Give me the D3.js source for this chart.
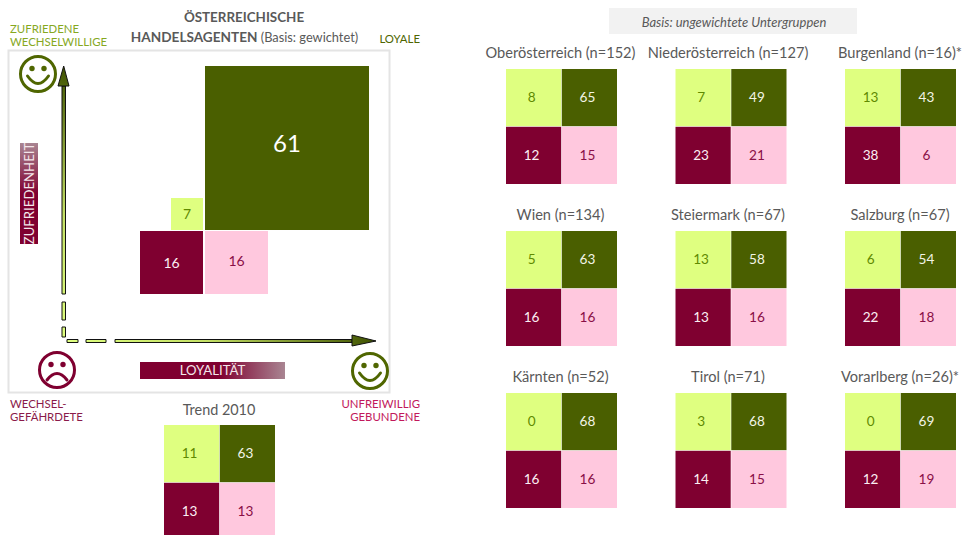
<!DOCTYPE html>
<meta charset="utf-8">
<style>
html, body {
  margin: 0;
  background: #fff;
}
text {
  font-family: Lato, "Open Sans", sans-serif;
}
.frame {
  fill: #fff;
  stroke: #e4e4e4;
  stroke-width: 2px;
}
.face {
  fill: none;
  stroke-width: 3px;
  stroke-linecap: round;
}
.title {
  fill: #595959;
  text-anchor: middle;
}
.shaft {
  stroke: #111;
  stroke-width: 1px;
}
</style>
<body>
<script src="https://d3js.org/d3.v7.min.js"></script>
<script>

var width = 965,
    height = 535;

// regions, left to right, row by row
var regions = ["Oberösterreich (n=152)", "Niederösterreich (n=127)", "Burgenland (n=16)*",
               "Wien (n=134)", "Steiermark (n=67)", "Salzburg (n=67)",
               "Kärnten (n=52)", "Tirol (n=71)", "Vorarlberg (n=26)*"];
var wechselwillige = [8, 7, 13, 5, 13, 6, 0, 3, 0];
var loyale = [65, 49, 43, 63, 58, 54, 68, 68, 69];
var gefaehrdete = [12, 23, 38, 16, 13, 22, 16, 14, 12];
var gebundene = [15, 21, 6, 16, 16, 18, 16, 15, 19];

var segments = ["wechselwillige", "loyale", "gefaehrdete", "gebundene"];
var fills = ["#dfff80", "#4a5f00", "#7f0030", "#ffc8de"];
var inks = ["#5f8a00", "#f2f5e6", "#fbeef2", "#8a0f47"];

// total
var totalValues = [7, 61, 16, 16];
// trend
var trendValues = [11, 63, 13, 13];

var fill = d3.scaleOrdinal().domain(segments).range(fills);
var ink = d3.scaleOrdinal().domain(segments).range(inks);

var svg = d3.select("body").append("svg")
    .attr("width", width)
    .attr("height", height)
    .style("display", "block");

var defs = svg.append("defs");

function gradient(id, x1, y1, x2, y2, stops) {
  var g = defs.append("linearGradient")
      .attr("id", id)
      .attr("gradientUnits", "userSpaceOnUse")
      .attr("x1", x1).attr("y1", y1)
      .attr("x2", x2).attr("y2", y2);
  stops.forEach(function(s) {
    g.append("stop").attr("offset", s[0]).attr("stop-color", s[1]);
  });
}

gradient("arrowV", 0, 337, 0, 66, [[0, "#dfff80"], [.45, "#c4e066"], [1, "#3f5200"]]);
gradient("arrowH", 67, 0, 376, 0, [[0, "#dfff80"], [.45, "#c4e066"], [1, "#3f5200"]]);
gradient("barV", 0, 244, 0, 143, [[0, "#7f0030"], [.5, "#7f0030"], [1, "#a98592"]]);
gradient("barH", 140, 0, 285, 0, [[0, "#7f0030"], [.55, "#7f0030"], [1, "#a98592"]]);

// frame of the big quadrant
svg.append("rect")
    .attr("class", "frame")
    .attr("x", 8.5).attr("y", 50.5)
    .attr("width", 381).attr("height", 342);

// big quadrant, sides
var side = d3.scaleLinear().domain([7, 16, 61]).range([32, 63, 164]);
var crossX = 204,
    crossY = 230.5;
var labelShift = [0, -5, 1, -1];

var big = svg.append("g").selectAll("g")
    .data(segments.map(function(s, i) { return {key: s, value: totalValues[i], right: i % 2 == 1, bottom: i > 1, shift: labelShift[i]}; }))
  .enter().append("g");

big.append("rect")
    .attr("x", function(d) { return d.right ? crossX + 1 : crossX - 1 - side(d.value); })
    .attr("y", function(d) { return d.bottom ? crossY + .5 : crossY - .5 - side(d.value); })
    .attr("width", function(d) { return side(d.value); })
    .attr("height", function(d) { return side(d.value); })
    .attr("fill", function(d) { return fill(d.key); });

big.append("text")
    .attr("x", function(d) { return d.right ? crossX + 1 + side(d.value) / 2 : crossX - 1 - side(d.value) / 2; })
    .attr("y", function(d) { return (d.bottom ? crossY + side(d.value) / 2 : crossY - side(d.value) / 2) + d.shift; })
    .attr("dy", ".35em")
    .attr("text-anchor", "middle")
    .attr("font-size", function(d) { return d.value > 50 ? 24 : 14; })
    .attr("fill", function(d) { return fill(d.key) == "#4a5f00" ? "#fff" : ink(d.key); })
    .text(function(d) { return d.value; });

// 2x2 blocks
var cellX = d3.scaleBand().domain([0, 1]).range([0, 111]).paddingInner(.01);
var cellY = d3.scaleBand().domain([0, 1]).range([0, 115]).paddingInner(.01);

function block(x, y, values) {
  var g = svg.append("g").attr("transform", "translate(" + x + "," + y + ")");
  var cell = g.selectAll("g")
      .data(values.map(function(v, i) { return {key: segments[i], value: v, col: i % 2, row: i >> 1}; }))
    .enter().append("g")
      .attr("transform", function(d) { return "translate(" + cellX(d.col) + "," + cellY(d.row) + ")"; });
  cell.append("rect")
      .attr("width", cellX.bandwidth())
      .attr("height", cellY.bandwidth())
      .attr("fill", function(d) { return fill(d.key); });
  cell.append("text")
      .attr("x", cellX.bandwidth() / 2 - 2)
      .attr("y", cellY.bandwidth() / 2)
      .attr("dy", ".35em")
      .attr("text-anchor", "middle")
      .attr("font-size", 13.6)
      .attr("fill", function(d) { return ink(d.key); })
      .text(function(d) { return d.value; });
}

var colX = d3.scalePoint().domain([0, 1, 2]).range([506, 845]);
var rowY = d3.scalePoint().domain([0, 1, 2]).range([69, 393]);
var titleX = d3.scaleOrdinal().domain([0, 1, 2]).range([560.5, 728, 900]);

regions.forEach(function(name, i) {
  var c = i % 3,
      r = Math.floor(i / 3);
  block(colX(c), rowY(r), [wechselwillige[i], loyale[i], gefaehrdete[i], gebundene[i]]);
  svg.append("text")
      .attr("class", "title")
      .attr("x", titleX(c))
      .attr("y", rowY(r) - 16)
      .attr("dy", ".35em")
      .attr("font-size", 14.6)
      .text(name);
});

// trend
block(164, 425, trendValues);
svg.append("text")
    .attr("class", "title")
    .attr("x", 219).attr("y", 410).attr("dy", ".35em")
    .attr("font-size", 14.4)
    .text("Trend 2010");

// header texts
svg.append("rect")
    .attr("x", 609).attr("y", 8)
    .attr("width", 248).attr("height", 26)
    .attr("fill", "#f2f2f2");
svg.append("text")
    .attr("class", "title")
    .attr("x", 734).attr("y", 22).attr("dy", ".35em")
    .attr("font-size", 13)
    .attr("font-style", "italic")
    .text("Basis: ungewichtete Untergruppen");

svg.append("text")
    .attr("class", "title")
    .attr("x", 244).attr("y", 17).attr("dy", ".35em")
    .attr("font-size", 13.4)
    .attr("font-weight", 700)
    .text("ÖSTERREICHISCHE");
var head2 = svg.append("text")
    .attr("class", "title")
    .attr("x", 244.5).attr("y", 37).attr("dy", ".35em")
    .attr("font-size", 13.6)
    .attr("font-weight", 700)
    .text("HANDELSAGENTEN ");
head2.append("tspan")
    .attr("font-size", 12.8)
    .attr("font-weight", 400)
    .text("(Basis: gewichtet)");

function corner(x, anchor, lines, y0, color) {
  svg.append("g").selectAll("text")
      .data(lines)
    .enter().append("text")
      .attr("x", x)
      .attr("y", function(d, i) { return y0 + i * 13.5; })
      .attr("dy", ".35em")
      .attr("text-anchor", anchor)
      .attr("font-size", 11.4)
      .attr("fill", color)
      .text(function(d) { return d; });
}

corner(10, "start", ["ZUFRIEDENE", "WECHSELWILLIGE"], 29, "#86a81f");
corner(420, "end", ["LOYALE"], 39, "#4f6600");
corner(10, "start", ["WECHSEL-", "GEFÄHRDETE"], 404, "#8a1a4a");
corner(420, "end", ["UNFREIWILLIG", "GEBUNDENE"], 404, "#c2185b");

// arrows
var line = d3.line();

function shaft(pts, paint) {
  svg.append("path")
      .attr("class", "shaft")
      .attr("d", line(pts) + "Z")
      .attr("fill", paint);
}

[[302, 320], [327, 337], [86, 294]].forEach(function(s) {
  shaft([[62, s[0]], [65.5, s[0]], [65.5, s[1]], [62, s[1]]], "url(#arrowV)");
});
shaft([[58, 86], [63.7, 66], [69, 86]], "url(#arrowV)");

[[67, 78], [86, 106], [115, 352]].forEach(function(s) {
  shaft([[s[0], 339.5], [s[1], 339.5], [s[1], 342.5], [s[0], 342.5]], "url(#arrowH)");
});
shaft([[352, 335], [376, 341], [352, 346]], "url(#arrowH)");

// axis captions
svg.append("rect")
    .attr("x", 20).attr("y", 143)
    .attr("width", 18).attr("height", 101)
    .attr("fill", "url(#barV)");
svg.append("text")
    .attr("transform", "translate(29,193.5) rotate(-90)")
    .attr("dy", ".35em")
    .attr("text-anchor", "middle")
    .attr("font-size", 13.2)
    .attr("fill", "#f3e6ea")
    .text("ZUFRIEDENHEIT");

svg.append("rect")
    .attr("x", 140).attr("y", 362)
    .attr("width", 145).attr("height", 17)
    .attr("fill", "url(#barH)");
svg.append("text")
    .attr("x", 212.5).attr("y", 370.5)
    .attr("dy", ".35em")
    .attr("text-anchor", "middle")
    .attr("font-size", 13.2)
    .attr("fill", "#f3e6ea")
    .text("LOYALITÄT");

// smileys
function face(cx, cy, color, happy) {
  var g = svg.append("g").attr("transform", "translate(" + cx + "," + cy + ")");
  g.append("circle").attr("class", "face").attr("r", 17.5).attr("stroke", color);
  g.selectAll("circle.eye")
      .data([-6, 6])
    .enter().append("circle")
      .attr("class", "eye")
      .attr("cx", function(d) { return d; })
      .attr("cy", -5.5)
      .attr("r", 2.7)
      .attr("fill", color);
  g.append("path")
      .attr("class", "face")
      .attr("stroke", color)
      .attr("d", happy ? "M-10.5,2 Q0,17 10.5,2" : "M-10,10 Q0,-3 10,10");
}

face(38, 74, "#4f6600", true);
face(370, 371, "#4f6600", true);
face(57, 370, "#7f0030", false);

</script>
